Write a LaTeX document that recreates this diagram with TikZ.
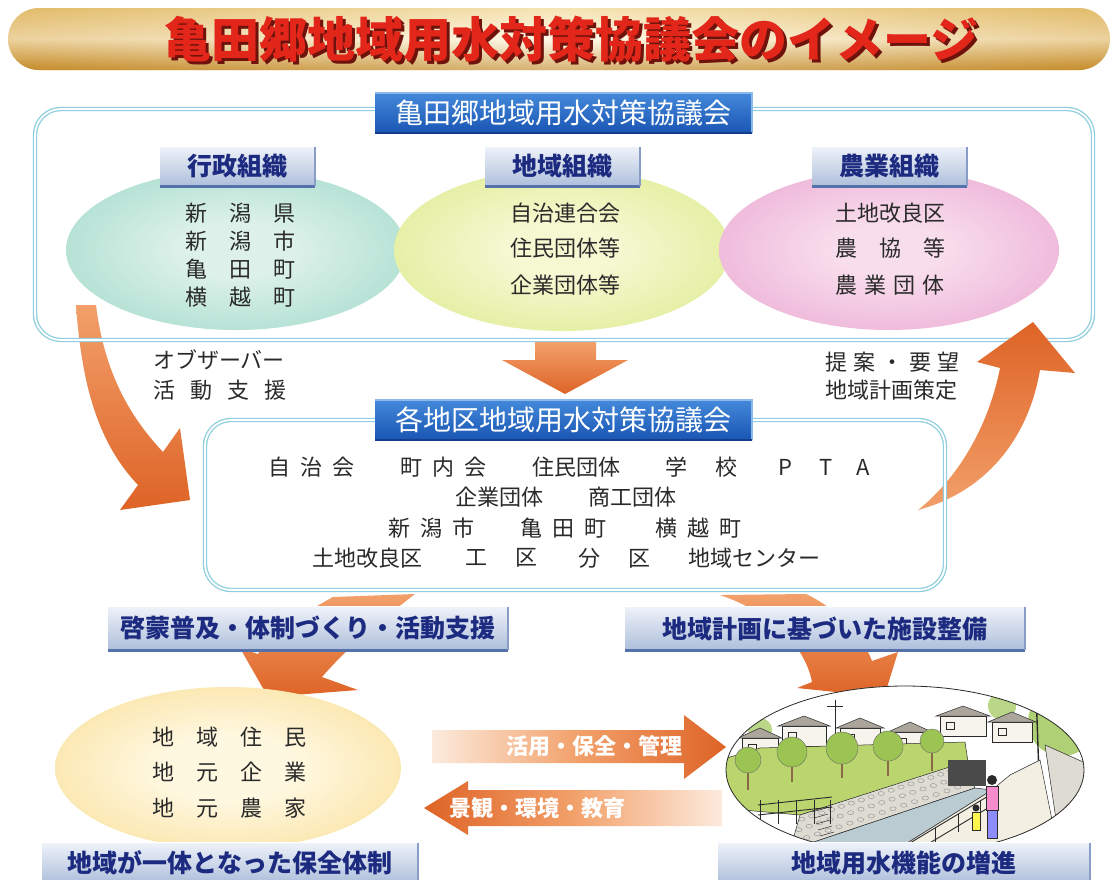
\documentclass[tikz,border=0pt]{standalone}
\usepackage{fontspec}
\setmainfont{Noto Sans CJK JP}
\usetikzlibrary{shapes.geometric}

% palette
\definecolor{ink}{HTML}{2A2A2A}
\definecolor{navy}{HTML}{1C2A80}
\definecolor{frameblue}{HTML}{8FCFE0}
\definecolor{arrowdeep}{HTML}{DE6326}
\definecolor{arrowsoft}{HTML}{F2A06A}
\definecolor{arrowpale}{HTML}{FCEBDD}
\definecolor{headtop}{HTML}{4389DA}
\definecolor{headbot}{HTML}{1A55B3}
\definecolor{headhi}{HTML}{8CB9EC}
\definecolor{headlo}{HTML}{123F8C}
\definecolor{tabtop}{HTML}{EEF2F9}
\definecolor{tabbot}{HTML}{AEBFDB}
\definecolor{tabrim}{HTML}{5571AC}
\definecolor{titlered}{HTML}{E3261A}
\definecolor{titleshadow}{HTML}{6E120C}
\definecolor{bandtop}{HTML}{F0D68E}
\definecolor{bandmid}{HTML}{FFF8DE}
\definecolor{bandbot}{HTML}{C28A28}
\definecolor{bandend}{HTML}{C98A25}
\definecolor{govin}{HTML}{DDF1EA}
\definecolor{govmid}{HTML}{9ED9C8}
\definecolor{govout}{HTML}{3DAF96}
\definecolor{locin}{HTML}{F6F8D2}
\definecolor{locmid}{HTML}{DCEA8A}
\definecolor{locout}{HTML}{B9D338}
\definecolor{agrin}{HTML}{F8DDEC}
\definecolor{agrmid}{HTML}{EAA6D2}
\definecolor{agrout}{HTML}{C8479F}
\definecolor{resin}{HTML}{FFF8E0}
\definecolor{resmid}{HTML}{F8DB8E}
\definecolor{resout}{HTML}{DF9F1E}
% scene colours
\definecolor{grass}{HTML}{BBD56E}
\definecolor{leaf}{HTML}{9CC453}
\definecolor{trunk}{HTML}{8A6A45}
\definecolor{stone}{HTML}{DEDBD3}
\definecolor{water}{HTML}{BACBD2}
\definecolor{walk}{HTML}{F3EFE3}
\definecolor{roof}{HTML}{ABA59B}
\definecolor{wall}{HTML}{F7F4ED}

\pgfdeclareradialshading{govshade}{\pgfpoint{0bp}{0bp}}{color(0bp)=(govin); color(8bp)=(govin); color(36bp)=(govmid); color(50bp)=(govout)}
\pgfdeclareradialshading{locshade}{\pgfpoint{0bp}{0bp}}{color(0bp)=(locin); color(8bp)=(locin); color(36bp)=(locmid); color(50bp)=(locout)}
\pgfdeclareradialshading{agrshade}{\pgfpoint{0bp}{0bp}}{color(0bp)=(agrin); color(8bp)=(agrin); color(36bp)=(agrmid); color(50bp)=(agrout)}
\pgfdeclareradialshading{resshade}{\pgfpoint{0bp}{0bp}}{color(0bp)=(resin); color(10bp)=(resin); color(38bp)=(resmid); color(50bp)=(resout)}

\tikzset{
  tabbox/.style={rectangle, inner sep=0pt, minimum height=39, top color=tabtop, bottom color=tabbot,
    text=navy, font=\fontsize{25}{25}\selectfont\bfseries},
  headbox/.style={rectangle, inner sep=0pt, minimum width=377, minimum height=40, top color=headtop,
    bottom color=headbot, text=white, font=\fontsize{28}{28}\selectfont},
  body/.style={inner sep=0pt, text=ink, font=\fontsize{22}{22}\selectfont},
  onarrow/.style={inner sep=0pt, text=white, font=\fontsize{22}{22}\selectfont\bfseries},
  frameline/.style={draw=frameblue, double=white, line width=1.3pt, double distance=1.8pt, rounded corners=26pt},
  blob/.style={ellipse, inner sep=0pt, shade},
}

\newcommand{\tabrims}[1]{%
  \draw[tabrim, line width=3pt] (#1.south west) -- (#1.south east);
  \draw[tabrim!70, line width=1.5pt] (#1.south east) -- (#1.north east);
  \draw[white, line width=1.2pt] (#1.north west) -- (#1.north east);}
\newcommand{\headrims}[1]{%
  \draw[headhi, line width=2pt] (#1.south east) -- (#1.north east) -- (#1.north west);
  \draw[headlo, line width=2pt] (#1.south west) -- (#1.south east);}

\begin{document}
\begin{tikzpicture}[x=1pt, y=-1pt]
\useasboundingbox (0,0) rectangle (1116,879);
\clip (0,0) rectangle (1116,879);
\fill[white] (0,0) rectangle (1116,879);

% ---------- title band ----------
\shade[top color=bandtop, bottom color=bandbot, middle color=bandmid, rounded corners=31pt]
  (8,8) rectangle (1110,70);
\shade[left color=bandend, right color=bandend, middle color=white, opacity=0.35, rounded corners=31pt]
  (8,8) rectangle (1110,70);
\node[inner sep=0pt, text=titleshadow, font=\fontsize{48}{48}\selectfont\bfseries] (titleShadow) at (574,42)
  {亀田郷地域用水対策協議会のイメージ};
\node[inner sep=0pt, text=titlered, font=\fontsize{48}{48}\selectfont\bfseries] (title) at (571,39)
  {亀田郷地域用水対策協議会のイメージ};

% ---------- arrow from the council to the district councils (left) ----------
\shade[top color=arrowsoft, bottom color=arrowdeep]
  (76,305) .. controls (82,390) and (100,445) .. (138,485) -- (120,510) -- (190,500) -- (180,428)
  -- (163,452) .. controls (128,415) and (104,370) .. (96,305) -- cycle;

% ---------- upper council frame ----------
\draw[frameline] (35,109) rectangle (1093,340);

\node[blob, shading=govshade, minimum width=340, minimum height=160] (eGov) at (236,250) {};
\node[blob, shading=locshade, minimum width=336, minimum height=162] (eLoc) at (562,250) {};
\node[blob, shading=agrshade, minimum width=340, minimum height=160] (eAgr) at (889,250) {};

\node[headbox] (hMain) at (563.5,113) {亀田郷地域用水対策協議会};
\headrims{hMain}

\node[tabbox, minimum width=155] (tGov) at (237.5,166.5) {行政組織};
\node[tabbox, minimum width=155] (tLoc) at (562.5,166.5) {地域組織};
\node[tabbox, minimum width=155] (tAgr) at (889.5,166.5) {農業組織};
\tabrims{tGov}\tabrims{tLoc}\tabrims{tAgr}

% members of each organisation
\node[body] (g1) at (240,213) {新\kern22pt 潟\kern22pt 県};
\node[body] (g2) at (240,241) {新\kern22pt 潟\kern22pt 市};
\node[body] (g3) at (240,269) {亀\kern22pt 田\kern22pt 町};
\node[body] (g4) at (240,297) {横\kern22pt 越\kern22pt 町};

\node[body] (l1) at (565,213) {自治連合会};
\node[body] (l2) at (565,248) {住民団体等};
\node[body] (l3) at (565,285) {企業団体等};

\node[body] (a1) at (890,213) {土地改良区};
\node[body] (a2) at (890,248) {農\kern22pt 協\kern22pt 等};
\node[body] (a3) at (890,285) {農\kern7pt 業\kern7pt 団\kern7pt 体};

% side notes
\node[body, anchor=west] (obs1) at (153,360) {オブザーバー};
\node[body, anchor=west] (obs2) at (153,390) {活\kern15pt 動\kern15pt 支\kern15pt 援};
\node[body, anchor=west] (req1) at (825,362) {提\kern6pt 案\kern6pt ・\kern6pt 要\kern6pt 望};
\node[body, anchor=west] (req2) at (825,390) {地域計画策定};

% ---------- downward arrow and return arrow ----------
\shade[top color=arrowsoft, bottom color=arrowdeep]
  (535,342) -- (596,342) -- (596,360) -- (628,360) -- (565,394) -- (502,360) -- (535,360) -- cycle;
\shade[top color=arrowdeep, bottom color=arrowsoft]
  (918,510) .. controls (962,475) and (990,420) .. (1000,368) -- (977,362) -- (1033,322) -- (1075,373)
  -- (1040,370) .. controls (1028,440) and (985,492) .. (918,510) -- cycle;

% ---------- arrows down to the lower row ----------
\shade[top color=arrowsoft, bottom color=arrowdeep]
  (333,597) .. controls (300,615) and (268,636) .. (258,654) -- (240,648) -- (268,697) -- (358,690)
  -- (322,677) .. controls (352,642) and (392,612) .. (415,594) -- cycle;
\shade[top color=arrowsoft, bottom color=arrowdeep]
  (720,595) .. controls (770,612) and (805,645) .. (812,682) -- (797,688) -- (884,697) -- (898,652)
  -- (872,661) .. controls (860,630) and (830,605) .. (806,594) -- cycle;

% ---------- district council frame ----------
\draw[frameline] (205,420) rectangle (945,590);
\node[headbox] (hDist) at (563.5,420) {各地区地域用水対策協議会};
\headrims{hDist}

\node[body, anchor=west] (d11) at (268,467) {自\kern10pt 治\kern10pt 会};
\node[body, anchor=west] (d12) at (400,467) {町\kern10pt 内\kern10pt 会};
\node[body, anchor=west] (d13) at (532,467) {住民団体};
\node[body, anchor=west] (d14) at (665,467) {学\kern28pt 校};
\node[body, anchor=west] (d15) at (778,467) {P\kern27pt T\kern24pt A};
\node[body, anchor=west] (d21) at (455,497) {企業団体};
\node[body, anchor=west] (d22) at (588,497) {商工団体};
\node[body, anchor=west] (d31) at (388,528) {新\kern10pt 潟\kern10pt 市};
\node[body, anchor=west] (d32) at (520,528) {亀\kern10pt 田\kern10pt 町};
\node[body, anchor=west] (d33) at (655,528) {横\kern10pt 越\kern10pt 町};
\node[body, anchor=west] (d41) at (312,558) {土地改良区};
\node[body, anchor=west] (d42) at (465,558) {工\kern28pt 区};
\node[body, anchor=west] (d43) at (578,558) {分\kern28pt 区};
\node[body, anchor=west] (d44) at (688,558) {地域センター};

\node[tabbox, minimum width=400, minimum height=43] (sLeft) at (308,628.5) {啓蒙普及・体制づくり・活動支援};
\node[tabbox, minimum width=400, minimum height=43] (sRight) at (825,628.5) {地域計画に基づいた施設整備};
\tabrims{sLeft}\tabrims{sRight}

% ---------- residents ----------
\node[blob, shading=resshade, minimum width=346, minimum height=162] (eRes) at (228,768) {};
\node[body] (r1) at (229,737) {地\kern22pt 域\kern22pt 住\kern22pt 民};
\node[body] (r2) at (229,772) {地\kern22pt 元\kern22pt 企\kern22pt 業};
\node[body] (r3) at (229,808) {地\kern22pt 元\kern22pt 農\kern22pt 家};

% ---------- water facilities scene ----------
\begin{scope}
  \clip (905,770) ellipse [x radius=179pt, y radius=84pt];
  \fill[white] (720,680) rectangle (1090,860);
  % far trees
  \fill[leaf!80] (1062,722) circle [radius=34pt];
  \fill[leaf!70] (1002,706) circle [radius=14pt];
  \fill[leaf!70] (760,730) circle [radius=12pt];
  % houses on the skyline
  \foreach \hx/\hw/\hy in {742/36/738, 782/44/726, 840/40/728, 892/36/732, 940/46/716, 992/40/722} {
    \filldraw[fill=wall, draw=ink, line width=0.5pt] (\hx,\hy) rectangle ++(\hw,20);
    \filldraw[fill=roof, draw=ink, line width=0.5pt] (\hx-4,\hy) -- (\hx+\hw/2,\hy-10) -- (\hx+\hw+4,\hy) -- cycle;
    \draw[ink, line width=0.4pt] (\hx+6,\hy+6) rectangle ++(8,7);
  }
  % utility poles
  \draw[ink, line width=1pt] (835,700) -- (835,745);
  \draw[ink, line width=0.6pt] (827,706) -- (843,706);
  \draw[ink, line width=1.4pt] (1036,690) -- (1040,805);
  % upper field
  \filldraw[fill=grass, draw=ink, line width=0.5pt]
    (720,760) -- (760,748) -- (965,742) -- (968,762) -- (800,815) -- (720,808) -- cycle;
  % stone retaining wall
  \filldraw[fill=stone, draw=ink, line width=0.5pt]
    (800,815) -- (962,763) -- (975,788) -- (790,850) -- cycle;
  \foreach \t in {0.02,0.08,...,0.98} {
    \foreach \s in {0.15,0.45,0.78} {
      \pgfmathsetmacro{\px}{(1-\s)*(800+162*\t)+\s*(790+185*\t)}
      \pgfmathsetmacro{\py}{(1-\s)*(815-52*\t)+\s*(850-62*\t)}
      \draw[ink!55, line width=0.35pt] (\px,\py) ellipse [x radius=3.2pt, y radius=2pt];
    }
  }
  % stairs down the wall
  \foreach \k in {0,...,6}
    \draw[ink, line width=0.5pt] (812+2*\k,812+6*\k) -- (826+2*\k,808+6*\k);
  % culvert, channel, walkway
  \fill[ink!85] (948,760) rectangle (986,786);
  \filldraw[fill=water, draw=ink, line width=0.5pt] (790,850) -- (975,788) -- (992,790) -- (880,860) -- cycle;
  \filldraw[fill=walk, draw=ink, line width=0.5pt] (880,860) -- (992,790) -- (1010,775) -- (1040,760) -- (1060,860) -- cycle;
  % wall on the right
  \filldraw[fill=stone, draw=ink, line width=0.5pt] (1045,745) -- (1090,765) -- (1090,860) -- (1062,860) -- cycle;
  % field trees
  \foreach \tx/\ty/\tr in {748/760/13, 792/752/15, 842/748/16, 888/746/15, 932/741/12} {
    \draw[trunk, line width=1.6pt] (\tx,\ty) -- (\tx,\ty+30);
    \filldraw[fill=leaf, draw=ink!70, line width=0.4pt] (\tx,\ty) circle [radius=\tr pt];
  }
  % fences
  \draw[ink, line width=0.9pt] (758,805) -- (832,797) (758,815) -- (832,807);
  \foreach \fx in {760,778,796,814,830}
    \draw[ink, line width=0.9pt] (\fx,800) -- (\fx,824);
  \draw[ink, line width=0.9pt] (905,846) -- (990,795) (908,856) -- (993,805);
  \foreach \fx/\fy in {912/842, 935/828, 958/814, 980/801}
    \draw[ink, line width=0.9pt] (\fx,\fy) -- (\fx,\fy+18);
  % people on the walkway
  \fill[ink] (992,780) circle [radius=5pt];
  \filldraw[fill=magenta!45, draw=ink, line width=0.4pt] (986,786) rectangle (998,810);
  \filldraw[fill=blue!45, draw=ink, line width=0.4pt] (987,810) rectangle (997,838);
  \fill[ink] (976,808) circle [radius=3.5pt];
  \filldraw[fill=yellow!70, draw=ink, line width=0.4pt] (972,812) rectangle (980,830);
\end{scope}
\node[ellipse, draw=ink, line width=0.8pt, inner sep=0pt, minimum width=358, minimum height=168] (ePic) at (905,770) {};

% ---------- exchange arrows ----------
\shade[left color=arrowpale, right color=arrowdeep, middle color=arrowsoft]
  (432,730) -- (684,730) -- (684,715) -- (726,747) -- (684,779) -- (684,763) -- (432,763) -- cycle;
\shade[left color=arrowdeep, right color=arrowpale, middle color=arrowsoft]
  (722,790) -- (468,790) -- (468,781) -- (424,808) -- (468,835) -- (468,826) -- (722,826) -- cycle;
\node[onarrow] (useTxt) at (594,746) {活用・保全・管理};
\node[onarrow] (envTxt) at (537,808) {景観・環境・教育};

% ---------- captions ----------
\node[tabbox, minimum width=376, minimum height=40] (cLeft) at (230,863) {地域が一体となった保全体制};
\node[tabbox, minimum width=372, minimum height=40] (cRight) at (904,863) {地域用水機能の増進};
\tabrims{cLeft}\tabrims{cRight}
\end{tikzpicture}
\end{document}
